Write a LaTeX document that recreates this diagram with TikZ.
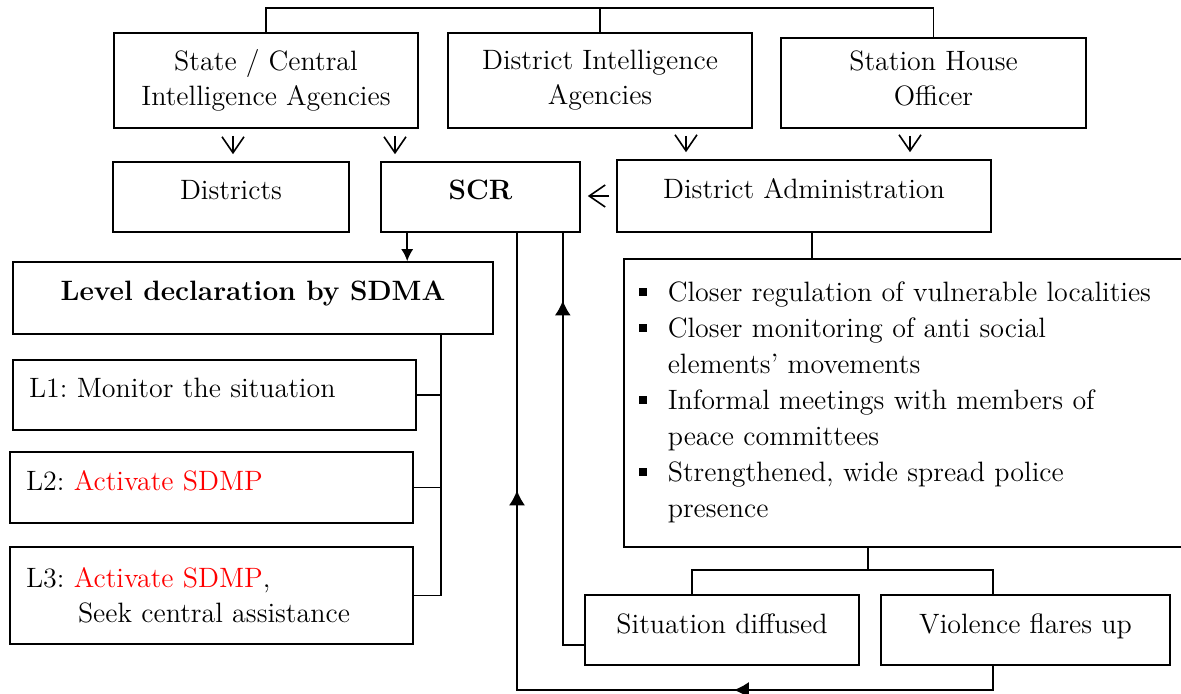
\documentclass[tikz,border=0pt]{standalone}
\usepackage{xcolor}
\usetikzlibrary{arrows.meta,decorations.markings}

\newcommand{\sqb}{\makebox[14.5pt][l]{\rule[3pt]{4pt}{4pt}}}
\frenchspacing

\begin{document}
\begin{tikzpicture}[x=0.5pt,y=-0.5pt,
  box/.style={draw,line width=0.8pt,inner sep=0pt,align=center,
    font=\fontsize{14}{17.5}\selectfont},
  uptext/.style={text height=10pt,text depth=7pt},
  lbox/.style={box,inner xsep=8pt,align=left,text width=185.5pt},
  link/.style={line width=0.8pt},
  openarr/.style={link,-{Straight Barb[length=8pt,width=11pt]},shorten <=3.5pt,shorten >=3.5pt},
  mtip/.tip={Latex[length=7.5pt,width=8pt]},
  midtip/.style={postaction={decorate,decoration={markings,
    mark=at position #1 with {\arrow{mtip}}}}}]
  \useasboundingbox (0,0) rectangle (1181,694);
  \clip (0,0) rectangle (1181,694);

  % sources of information
  \node[box,minimum width=152pt,minimum height=47.5pt] (sca) at (266,80.5)
    {State / Central\\Intelligence Agencies};
  \node[box,minimum width=152pt,minimum height=47.5pt] (dia) at (600,80.5)
    {District Intelligence\\Agencies};
  \node[box,text depth=4.5pt,minimum width=152.5pt,minimum height=45pt] (sho) at (933.5,83)
    {Station House\\Officer};

  % second row
  \node[box,uptext,minimum width=118pt,minimum height=35pt] (dst) at (231,197) {Districts};
  \node[box,uptext,minimum width=99.5pt,minimum height=35pt] (scr) at (480.5,197) {\bfseries SCR};
  \node[box,uptext,minimum width=187pt,minimum height=36pt] (dadm) at (804,196)
    {District Administration};

  % measures taken by the district
  \node[box,anchor=north west,align=left,text width=285pt,minimum height=144pt,
    inner xsep=7.5pt,font=\fontsize{14}{18}\selectfont] (bul) at (623,258)
    {\sqb Closer regulation of vulnerable localities\\
     \sqb Closer monitoring of anti social\\
     \hspace*{14.5pt}elements' movements\\
     \sqb Informal meetings with members of\\
     \hspace*{14.5pt}peace committees\\
     \sqb Strengthened, wide spread police\\
     \hspace*{14.5pt}presence};

  % levels
  \node[box,uptext,minimum width=240pt,minimum height=36pt] (lvl) at (253,298)
    {\bfseries Level declaration by SDMA};
  \node[lbox,uptext,minimum height=35pt] (l1) at (214.5,395) {L1: Monitor the situation};
  \node[lbox,uptext,minimum height=35.5pt] (l2) at (211.5,487.5)
    {L2: \textcolor{red}{Activate SDMP}};
  \node[lbox,minimum height=48.5pt] (l3) at (211.5,595.5)
    {L3: \textcolor{red}{Activate SDMP},\\\hspace*{26pt}Seek central assistance};

  % outcomes
  \node[box,uptext,minimum width=137pt,minimum height=35pt] (sd) at (722,630) {Situation diffused};
  \node[box,uptext,minimum width=144.5pt,minimum height=35pt] (vf) at (1025.5,630)
    {Violence flares up};

  % top bar
  \coordinate (bar) at (0,8);
  \draw[link] (sca.north) -- (sca.north |- bar) -| (sho.north);
  \draw[link] (dia.north) -- (dia.north |- bar);

  % short arrows
  \foreach \s/\t/\dx in {sca/dst/1pt, sca/scr/-42.75pt, dia/dadm/-59pt, sho/dadm/53pt}
    \draw[openarr] ([xshift=\dx]\t.north |- \s.south) -- ([xshift=\dx]\t.north);
  \draw[openarr] (dadm.west) -- (scr.east |- dadm.west);

  % district administration to measures to outcomes
  \draw[link] ([xshift=4pt]dadm.south) -- ([xshift=4pt]dadm.south |- bul.north);
  \coordinate (fork) at (868,570);
  \draw[link] (fork |- bul.south) -- (fork);
  \draw[link] ([xshift=-15pt]sd.north) |- (fork) -| ([xshift=-16.25pt]vf.north);

  % feedback to SCR
  \coordinate (back) at (517,690);
  \draw[link,midtip=0.296,midtip=0.731] ([xshift=-16.25pt]vf.south) |- (back)
    -- (back |- scr.south);
  \draw[link,midtip=0.844] ([yshift=-7.5pt]sd.west) -| ([xshift=-9pt]scr.south east);

  % SCR to levels
  \draw[link,-{Latex[length=6pt,width=6pt]}] ([xshift=13.5pt]scr.south west)
    -- ([xshift=13.5pt]scr.south west |- lvl.north);
  \coordinate (spine) at (441,0);
  \draw[link] (spine |- lvl.south) -- (spine |- l3.east) -- (l3.east);
  \foreach \l in {l1,l2}
    \draw[link] (\l.east) -- (spine |- \l.east);
\end{tikzpicture}
\end{document}
